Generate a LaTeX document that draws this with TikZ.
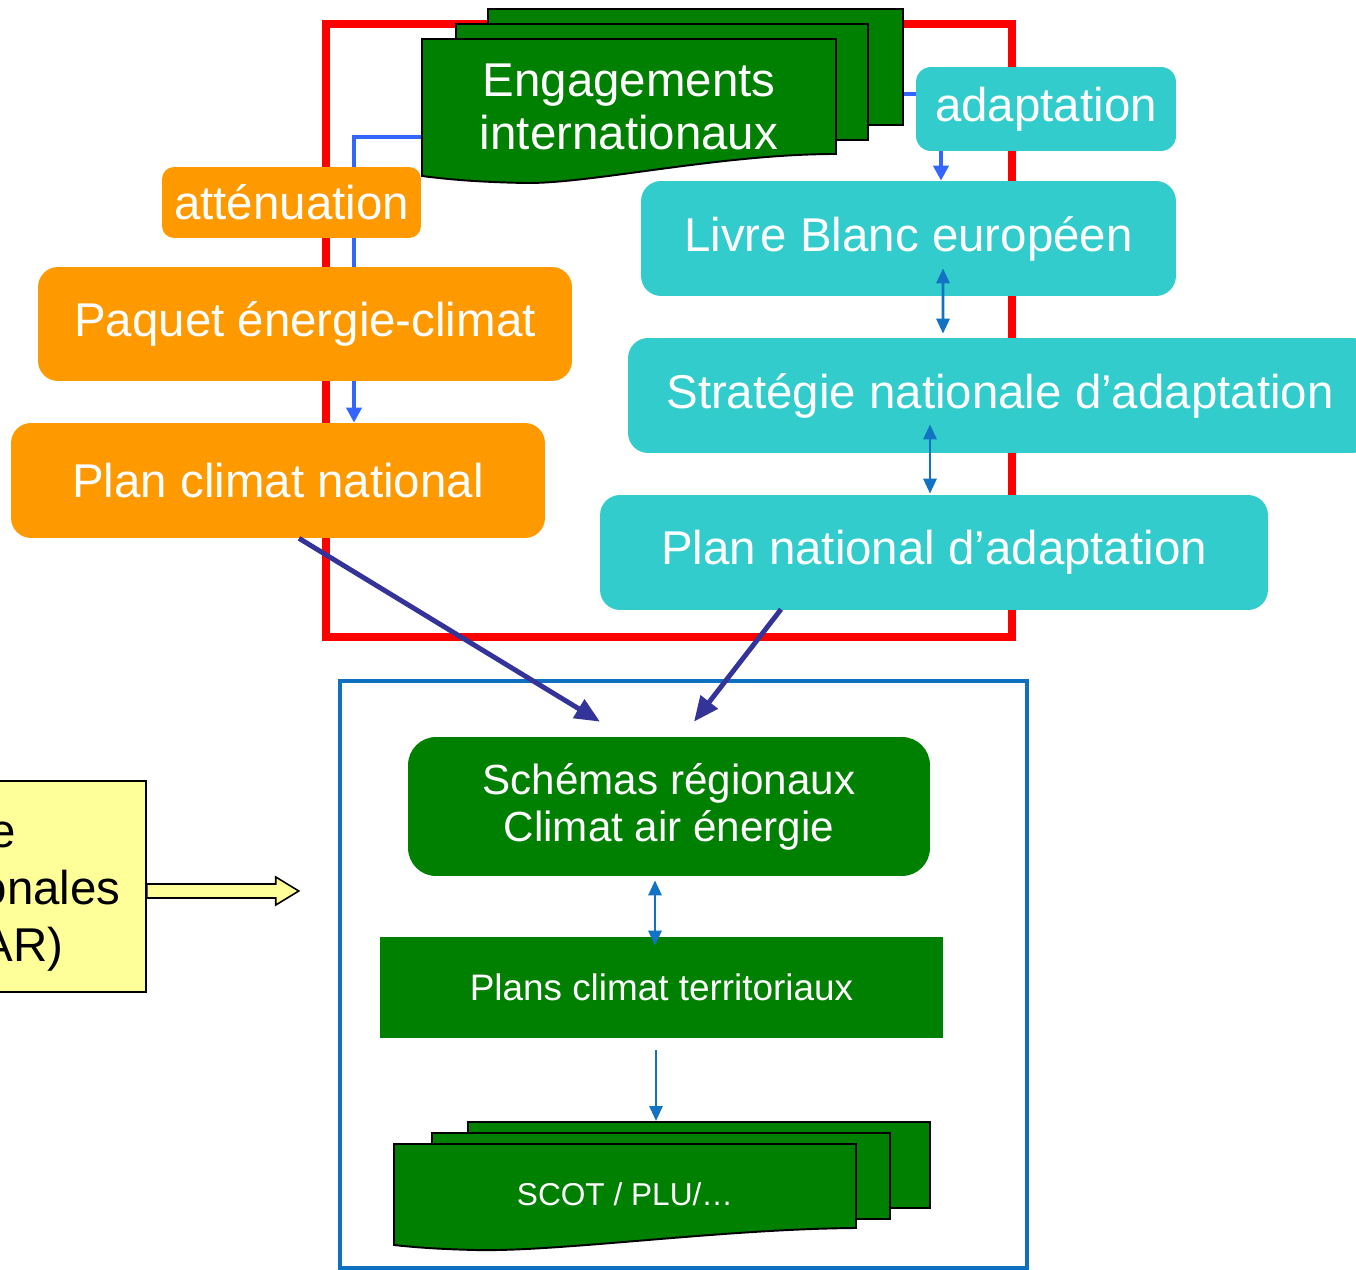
\documentclass[tikz,border=0pt]{standalone}
\usepackage{fontspec}
\setmainfont{Liberation Sans}
\usetikzlibrary{arrows.meta,calc,backgrounds}
\definecolor{orangeF}{HTML}{FF9900}
\definecolor{cyanF}{HTML}{33CCCC}
\definecolor{greenF}{HTML}{008000}
\definecolor{yellowF}{HTML}{FFFF99}
\definecolor{frameblue}{HTML}{1070C0}
\definecolor{connblue}{HTML}{3366FF}
\definecolor{dblblue}{HTML}{1273C4}
\definecolor{darkarr}{HTML}{333399}
\begin{document}
\begin{tikzpicture}[x=0.02cm,y=-0.02cm,
  big/.style={font=\fontsize{27}{30}\selectfont, text=white, inner sep=0pt, align=center},
  obox/.style={big, fill=orangeF, rounded corners=0.4cm},
  obsmall/.style={big, fill=orangeF, rounded corners=0.24cm},
  cbox/.style={big, fill=cyanF, rounded corners=0.4cm},
  cbsmall/.style={big, fill=cyanF, rounded corners=0.3cm},
  docsheet/.style={fill=greenF, draw=black, line width=1.1pt, inner sep=0pt},
  docframe/.style={inner sep=0pt, text=white, align=center},
  redframe/.style={draw=red, line width=4pt},
  blueframe/.style={draw=frameblue, line width=2.8pt},
  bconn/.style={draw=connblue, line width=2.2pt, -{Triangle[length=0.3cm,width=0.3cm]}},
  dbl/.style={draw=dblblue, line width=1.6pt, {Triangle[length=0.3cm,width=0.26cm]}-{Triangle[length=0.3cm,width=0.26cm]}},
  single/.style={draw=dblblue, line width=1.6pt, -{Triangle[length=0.3cm,width=0.26cm]}},
  darrow/.style={draw=darkarr, line width=2.8pt, -{Triangle[length=0.5cm,width=0.42cm]}},
  yline/.style={font=\fontsize{27}{30}\selectfont, inner sep=0pt, anchor=base east}
]
\useasboundingbox (0,0) rectangle (1356,1270);

% frames
\draw[redframe] (326,24) rectangle (1012,637);
\draw[blueframe] (340,681) rectangle (1027,1268);

% Engagements internationaux (stacked documents)
\node[docsheet, minimum width=8.3cm, minimum height=2.32cm] (engback) at (695.5,67) {};
\node[docsheet, minimum width=8.24cm, minimum height=2.32cm] (engmid) at (662,82) {};
\draw[docsheet] (422,39) -- (836,39) -- (836,154)
   .. controls (720,154) and (590,184) .. (525,183)
   .. controls (475,182) and (445,179) .. (422,176) -- cycle;
\node[docframe, font=\fontsize{27}{30}\selectfont, minimum width=8.28cm, minimum height=2.74cm] (engfront) at (629,107) {Engagements\\internationaux};

% orange boxes
\node[obsmall, minimum width=5.18cm, minimum height=1.42cm] (att) at (291.5,202.5) {atténuation};
\node[obox, minimum width=10.68cm, minimum height=2.28cm] (pec) at (305,324) {Paquet énergie-climat};
\node[obox, minimum width=10.68cm, minimum height=2.3cm] (pcn) at (278,480.5) {Plan climat national};

% cyan boxes
\node[cbsmall, minimum width=5.2cm, minimum height=1.68cm] (adapt) at (1046,109) {adaptation};
\node[cbox, minimum width=10.7cm, minimum height=2.3cm] (lbe) at (908.5,238.5) {Livre Blanc européen};
\node[cbox, minimum width=14.88cm, minimum height=2.3cm] (sna) at (1000,395.5) {Stratégie nationale d’adaptation};
\node[cbox, minimum width=13.36cm, minimum height=2.3cm] (pna) at (934,552.5) {Plan national d’adaptation};

% connectors running behind the boxes
\coordinate (c1) at (354,0);
\coordinate (c2) at (941,0);
\begin{scope}[on background layer]
\draw[bconn] ($(engfront.west)+(0,30)$) -| (c1 |- pcn.north);
\draw[bconn] ($(engback.east)+(0,27)$) -| (c2 |- lbe.north);
\end{scope}

% arrows between cyan boxes
\draw[dbl] ($(lbe.south)+(34.5,-28)$) -- ($(sna.north)+(-57,-4)$);
\draw[dbl] ($(sna.south)+(-70,-29)$) -- ($(pna.north)+(-4,-1)$);

% green boxes (regional level)
\node[big, fill=greenF, rounded corners=0.56cm, font=\fontsize{24}{26.6}\selectfont, minimum width=10.44cm, minimum height=2.78cm] (srcae) at (669,806.5) {Schémas régionaux\\ Climat air énergie};
\node[big, fill=greenF, font=\fontsize{21}{24}\selectfont, minimum width=11.26cm, minimum height=2.02cm] (pct) at (661.5,987.5) {Plans climat territoriaux};

% SCOT / PLU stacked documents
\node[docsheet, minimum width=9.24cm, minimum height=1.72cm] (scotback) at (699,1165) {};
\node[docsheet, minimum width=9.16cm, minimum height=1.72cm] (scotmid) at (661,1176) {};
\draw[docsheet] (394,1144) -- (856,1144) -- (856,1228)
   .. controls (720,1229) and (560,1252) .. (475,1250)
   .. controls (435,1249) and (412,1247) .. (394,1245) -- cycle;
\node[docframe, font=\fontsize{18}{21}\selectfont, minimum width=9.24cm, minimum height=2.02cm] (scotfront) at (625,1194.5) {SCOT / PLU/…};

\draw[dbl] ($(srcae.south)+(-14,4)$) -- ($(pct.north)+(-6.5,9)$);
\coordinate (a4) at ($(pct.south)+(-5.5,12)$);
\draw[single] (a4) -- (a4 |- scotback.north);

% dark blue arrows
\draw[darrow] ($(pcn.south)+(21,0)$) -- ($(srcae.north)+(-69,-15)$);
\draw[darrow] ($(pna.south)+(-153,-1)$) -- ($(srcae.north)+(25,-15)$);

% yellow box (cut off at the left edge)
\node[fill=yellowF, draw=black, line width=0.9pt, inner sep=0pt, minimum width=3.32cm, minimum height=4.22cm] (yb) at (63,886.5) {};
\node[yline] (yl1) at (16,847) {e};
\node[yline] (yl2) at (121,904) {onales};
\node[yline] (yl3) at (64,961) {AR)};
\draw[fill=yellowF, draw=black, line width=0.9pt] ($(yb.east)+(0,-2.5)$) -- ++(129,0) -- ++(0,-7) -- ++(23,14) -- ++(-23,14) -- ++(0,-7) -- ++(-129,0) -- cycle;
\end{tikzpicture}
\end{document}
